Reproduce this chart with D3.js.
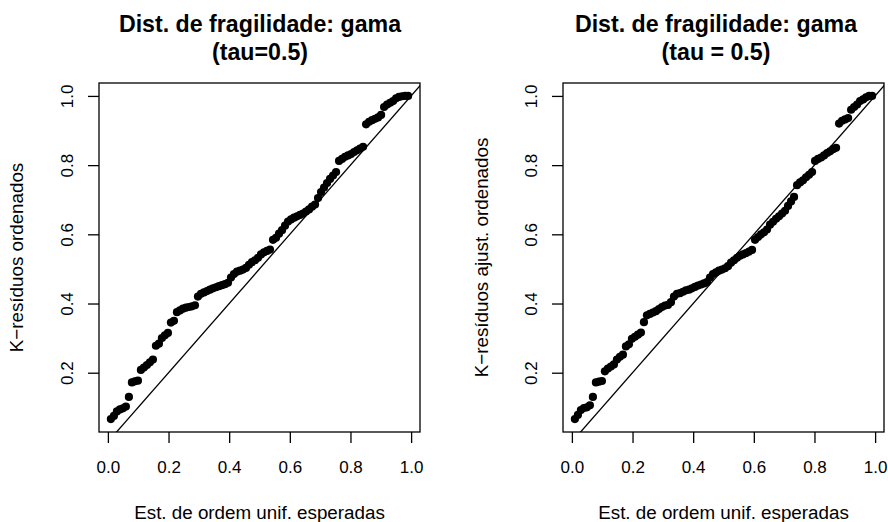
<!DOCTYPE html>
<html>
<head>
<meta charset="utf-8">
<script src="https://cdn.jsdelivr.net/npm/d3@7"></script>
<style>
  html, body { margin: 0; padding: 0; background: #fff; }
  svg text { font-family: "Liberation Sans", Arial, Helvetica, sans-serif; fill: #000; }
</style>
</head>
<body>
<svg id="chart" width="888" height="522"></svg>
<script>
// ---- data ----
const nPoints = 100;
const xTicks = [0.0, 0.2, 0.4, 0.6, 0.8, 1.0];
const yTicks = [0.2, 0.4, 0.6, 0.8, 1.0];
const xTickLabels = ["0.0", "0.2", "0.4", "0.6", "0.8", "1.0"];
const yTickLabels = ["0.2", "0.4", "0.6", "0.8", "1.0"];

const titlesLeft = ["Dist. de fragilidade: gama", "(tau=0.5)"];
const titlesRight = ["Dist. de fragilidade: gama", "(tau = 0.5)"];
const xLabel = "Est. de ordem unif. esperadas";
const yLabelLeft = "K\u2212resíduos ordenados";
const yLabelRight = "K\u2212resíduos ajust. ordenados";

// expected uniform order statistics i/(n+1)
const expectedUnif = d3.range(1, nPoints + 1).map(i => i / (nPoints + 1));

const residLeft = [
  0.066, 0.075, 0.088, 0.094, 0.097, 0.102, 0.130, 0.172, 0.175, 0.177,
  0.208, 0.215, 0.222, 0.230, 0.238, 0.278, 0.284, 0.300, 0.308, 0.315,
  0.345, 0.350, 0.375, 0.380, 0.385, 0.388, 0.390, 0.392, 0.395, 0.420,
  0.428, 0.432, 0.436, 0.440, 0.444, 0.447, 0.450, 0.453, 0.456, 0.460,
  0.475, 0.485, 0.492, 0.495, 0.498, 0.503, 0.512, 0.520, 0.525, 0.532,
  0.542, 0.548, 0.552, 0.556, 0.584, 0.590, 0.602, 0.612, 0.625, 0.637,
  0.643, 0.648, 0.652, 0.656, 0.660, 0.666, 0.672, 0.680, 0.686, 0.705,
  0.722, 0.735, 0.748, 0.760, 0.770, 0.780, 0.812, 0.818, 0.824, 0.828,
  0.832, 0.838, 0.843, 0.848, 0.853, 0.918, 0.925, 0.930, 0.934, 0.938,
  0.945, 0.968, 0.975, 0.980, 0.985, 0.993, 0.997, 0.999, 1.000, 1.000
];

const residRight = [
  0.066, 0.078, 0.092, 0.098, 0.100, 0.106, 0.130, 0.172, 0.174, 0.176,
  0.204, 0.212, 0.218, 0.224, 0.238, 0.246, 0.252, 0.276, 0.282, 0.298,
  0.304, 0.310, 0.316, 0.346, 0.366, 0.370, 0.374, 0.378, 0.384, 0.390,
  0.394, 0.396, 0.404, 0.420, 0.428, 0.430, 0.434, 0.438, 0.440, 0.444,
  0.448, 0.452, 0.455, 0.458, 0.462, 0.475, 0.485, 0.490, 0.495, 0.498,
  0.502, 0.508, 0.518, 0.525, 0.532, 0.538, 0.542, 0.546, 0.550, 0.555,
  0.584, 0.592, 0.600, 0.606, 0.614, 0.628, 0.636, 0.645, 0.652, 0.660,
  0.668, 0.682, 0.695, 0.708, 0.742, 0.750, 0.756, 0.765, 0.772, 0.780,
  0.812, 0.818, 0.822, 0.828, 0.835, 0.840, 0.846, 0.850, 0.920, 0.928,
  0.932, 0.936, 0.960, 0.968, 0.975, 0.985, 0.990, 0.996, 1.000, 1.000
];

// ---- drawing ----
const svg = d3.select("#chart");

function rExtent(vals) {
  const [a, b] = d3.extent(vals);
  const pad = 0.04 * (b - a);
  return [a - pad, b + pad];
}

function panel(cfg) {
  const { left, right, top, bottom, xs, ys, titles, titleX, yLabel, yLabelX, yTickX, id } = cfg;
  const x = d3.scaleLinear().domain(rExtent(xs)).range([left, right]);
  const y = d3.scaleLinear().domain(rExtent(ys)).range([bottom, top]);
  const g = svg.append("g");

  svg.append("clipPath").attr("id", id)
    .append("rect").attr("x", left).attr("y", top)
    .attr("width", right - left).attr("height", bottom - top);

  // points
  g.append("g").selectAll("circle")
    .data(xs.map((v, i) => [v, ys[i]]))
    .join("circle")
    .attr("cx", d => x(d[0]))
    .attr("cy", d => y(d[1]))
    .attr("r", 4.1)
    .attr("fill", "#000");

  // reference line y = x
  const xd = x.domain();
  g.append("line")
    .attr("clip-path", `url(#${id})`)
    .attr("x1", x(xd[0] - 1)).attr("y1", y(xd[0] - 1))
    .attr("x2", x(xd[1] + 1)).attr("y2", y(xd[1] + 1))
    .attr("stroke", "#000").attr("stroke-width", 1.3);

  // box
  g.append("rect")
    .attr("x", left).attr("y", top)
    .attr("width", right - left).attr("height", bottom - top)
    .attr("fill", "none").attr("stroke", "#000").attr("stroke-width", 1.3);

  // x axis
  const xa = d3.axisBottom(x).tickValues(xTicks)
    .tickFormat((d, i) => xTickLabels[i]).tickSize(11).tickSizeOuter(0);
  const gx = g.append("g").attr("transform", `translate(0,${bottom})`).call(xa);
  gx.select(".domain").remove();
  gx.selectAll(".tick line").attr("stroke-width", 1.3);
  gx.selectAll("text").attr("font-size", 17).attr("font-family", "Liberation Sans, Arial, sans-serif")
    .attr("dy", 0).attr("y", 41);

  // y axis
  const ya = d3.axisLeft(y).tickValues(yTicks)
    .tickFormat((d, i) => yTickLabels[i]).tickSize(11).tickSizeOuter(0);
  const gy = g.append("g").attr("transform", `translate(${left},0)`).call(ya);
  gy.select(".domain").remove();
  gy.selectAll(".tick line").attr("stroke-width", 1.3);
  gy.selectAll("text")
    .attr("font-size", 17).attr("font-family", "Liberation Sans, Arial, sans-serif")
    .attr("x", null).attr("dy", null)
    .attr("text-anchor", "middle")
    .attr("transform", `translate(${yTickX - left},0) rotate(-90)`);

  // titles
  g.append("text").attr("x", titleX).attr("y", 31.5)
    .attr("text-anchor", "middle").attr("font-weight", "bold").attr("font-size", 23.2)
    .text(titles[0]);
  g.append("text").attr("x", titleX).attr("y", 60)
    .attr("text-anchor", "middle").attr("font-weight", "bold").attr("font-size", 23.2)
    .text(titles[1]);

  // x label
  g.append("text").attr("x", (left + right) / 2).attr("y", 519)
    .attr("text-anchor", "middle").attr("font-size", 18.8).text(xLabel);

  // y label
  g.append("text")
    .attr("transform", `translate(${yLabelX},${(top + bottom) / 2}) rotate(-90)`)
    .attr("text-anchor", "middle").attr("font-size", 18.8).text(yLabel);
}

panel({ id: "clipL", left: 99, right: 420, top: 83, bottom: 432,
  xs: expectedUnif, ys: residLeft, titles: titlesLeft, titleX: 260,
  yLabel: yLabelLeft, yLabelX: 23, yTickX: 73 });
panel({ id: "clipR", left: 563, right: 884, top: 83, bottom: 432,
  xs: expectedUnif, ys: residRight, titles: titlesRight, titleX: 716,
  yLabel: yLabelRight, yLabelX: 488, yTickX: 537 });
</script>
</body>
</html>
